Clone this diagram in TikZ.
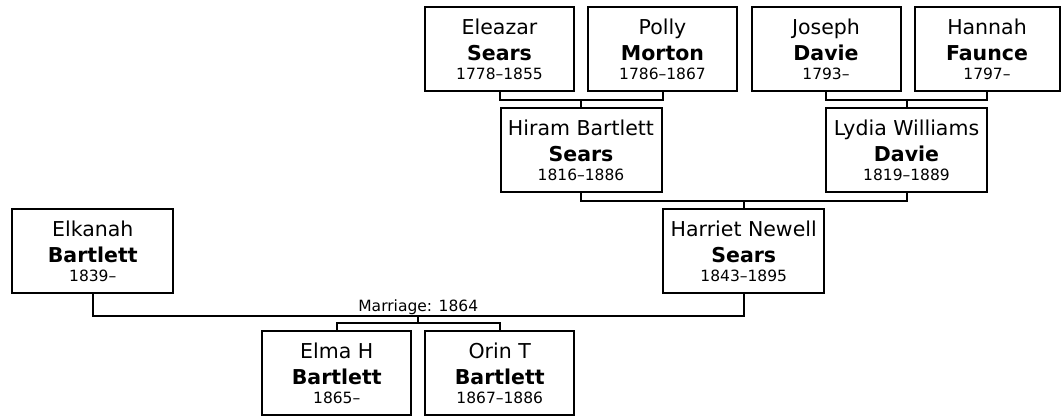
\documentclass[tikz,border=0pt]{standalone}
\usepackage{fontspec}
\setmainfont{DejaVu Sans}
\usetikzlibrary{positioning, calc}
\newcommand{\namesize}{\fontsize{20.5}{25.5}\selectfont}
\newcommand{\yearsize}{\fontsize{15.5}{18}\selectfont}
\newcommand{\person}[3]{#1\\\textbf{#2}\\[-6.4pt]{\yearsize #3}}

\begin{document}
\begin{tikzpicture}[
    x=1pt, y=1pt,
    node distance=12pt and 12pt,
    box/.style={draw=black, line width=2pt, align=center, font=\namesize, inner sep=0pt, minimum width=149pt, minimum height=84pt},
    widebox/.style={box, minimum width=161pt},
    link/.style={line width=2pt},
    note/.style={font=\yearsize, inner sep=0pt}
]
\useasboundingbox (0,0) rectangle (1061,417);

% Top row - great-grandparents
\node[box] (eleazar) at (499.5,367.5) {\person{Eleazar}{Sears}{1778--1855}};
\node[box, right=of eleazar] (polly) {\person{Polly}{Morton}{1786--1867}};
\node[box, right=12.5pt of polly] (joseph) {\person{Joseph}{Davie}{1793--}};
\node[box, right=of joseph, minimum width=145pt] (hannah) {\person{Hannah}{Faunce}{1797--}};

% Second row - grandparents
\coordinate (sj1) at ($(eleazar.south)!0.5!(polly.south)+(0,-7.5)$);
\coordinate (sj2) at ($(joseph.south)!0.5!(hannah.south)+(0,-7.5)$);
\node[widebox, below=7.5pt of sj1] (hiram) {\person{Hiram Bartlett}{Sears}{1816--1886}};
\node[widebox, below=7.5pt of sj2] (lydia) {\person{Lydia Williams}{Davie}{1819--1889}};

\draw[link] (eleazar.south) |- (sj1) -| (polly.south);
\draw[link] (sj1) -- (hiram);
\draw[link] (joseph.south) |- (sj2) -| (hannah.south);
\draw[link] (sj2) -- (lydia);

% Parents
\coordinate (sj3) at ($(hiram.south)!0.5!(lydia.south)+(0,-7.5)$);
\node[widebox, below=7.5pt of sj3] (harriet) {\person{Harriet Newell}{Sears}{1843--1895}};
\node[widebox, left=488pt of harriet] (elkanah) {\person{Elkanah}{Bartlett}{1839--}};

\draw[link] (hiram.south) |- (sj3) -| (lydia.south);
\draw[link] (sj3) -- (harriet);

% Marriage
\coordinate (wed) at ($(elkanah.south)!0.5!(harriet.south)+(0,-21.5)$);
\draw[link] (elkanah.south) |- (wed) -| (harriet.south);
\node[note, anchor=base] (wedlabel) at ($(wed)+(0,4)$) {Marriage: 1864};

% Children
\coordinate (kids) at ($(wed)+(0,-7.5)$);
\node[box, below=7pt of kids, xshift=-81.5pt] (elma) {\person{Elma H}{Bartlett}{1865--}};
\node[box, right=of elma] (orin) {\person{Orin T}{Bartlett}{1867--1886}};

\draw[link] (wed) -- (kids);
\draw[link] (elma.north) |- (kids) -| (orin.north);

\end{tikzpicture}
\end{document}
